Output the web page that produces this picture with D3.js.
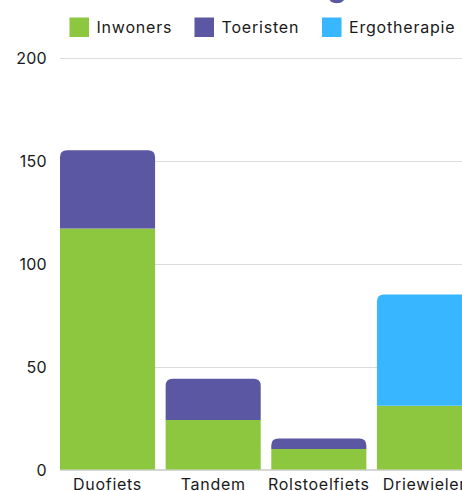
<!DOCTYPE html>
<html>
<head>
<meta charset="utf-8">
<script src="https://cdn.jsdelivr.net/npm/d3@7"></script>
<style>
  body { margin: 0; background: #fff; overflow: hidden; }
  svg { display: block; font-family: Inter, "Open Sans", sans-serif; }
</style>
</head>
<body>
<div id="chart"></div>
<script>
const categories = ["Duofiets", "Tandem", "Rolstoelfiets", "Driewieler"];
const seriesNames = ["Inwoners", "Toeristen", "Ergotherapie"];
const inwoners = [117, 24, 10, 31];
const toeristen = [38, 20, 5, 0];
const ergotherapie = [0, 0, 0, 54];
const yTicks = [0, 50, 100, 150, 200];

const COLORS = {"Inwoners": "#8dc63f", "Toeristen": "#5b57a3", "Ergotherapie": "#38b6ff"};

const WIDTH = 462, HEIGHT = 491;

const SVG = d3.select("#chart")
    .append("svg")
        .attr("width", WIDTH)
        .attr("height", HEIGHT);

// table for the stack layout
let rows = categories.map((c, i) => ({
    cat: c,
    Inwoners: inwoners[i],
    Toeristen: toeristen[i],
    Ergotherapie: ergotherapie[i]
}));

const x = d3.scaleBand()
    .domain(categories)
    .range([60, 472])
    .paddingInner(0.1)
    .paddingOuter(0);

const y = d3.scaleLinear()
    .domain([0, 200])
    .range([469.5, 57.5]);

// title cut off at the top, only a descender shows
SVG.append("text")
    .attr("x", 337)
    .attr("y", -3)
    .attr("text-anchor", "middle")
    .style("font-size", "30px")
    .style("font-weight", "700")
    .style("fill", "#5b57a3")
    .text("g");

// gridlines + y labels
SVG.append("g")
    .selectAll("line")
    .data(yTicks.filter(t => t > 0))
    .enter()
    .append("line")
        .attr("x1", 60)
        .attr("x2", WIDTH)
        .attr("y1", d => Math.round(y(d)) + 0.5)
        .attr("y2", d => Math.round(y(d)) + 0.5)
        .style("stroke", "#dcdcdc")
        .style("stroke-width", 1);

SVG.append("line")
    .attr("x1", 60)
    .attr("x2", WIDTH)
    .attr("y1", y(0) + 0.5)
    .attr("y2", y(0) + 0.5)
    .style("stroke", "#c8c8c8")
    .style("stroke-width", 1.5);

SVG.append("g")
    .selectAll("text")
    .data(yTicks)
    .enter()
    .append("text")
        .attr("x", 47)
        .attr("y", d => y(d) + 6)
        .attr("text-anchor", "end")
        .style("font-size", "16px")
        .style("letter-spacing", "0.3px")
        .style("fill", "#1a1a1a")
        .text(d => d);

// stacked bars
const stack = d3.stack().keys(seriesNames)(rows);

// top non-empty segment for each category gets the rounded corners
let topKey = rows.map(r => {
    let k = null;
    seriesNames.forEach(s => { if (r[s] > 0) k = s; });
    return k;
});

function barPath(x0, w, yTop, yBot, r) {
    if (r <= 0) return `M${x0},${yBot}V${yTop}H${x0 + w}V${yBot}Z`;
    return `M${x0},${yBot}V${yTop + r}Q${x0},${yTop} ${x0 + r},${yTop}` +
           `H${x0 + w - r}Q${x0 + w},${yTop} ${x0 + w},${yTop + r}V${yBot}Z`;
}

stack.forEach(layer => {
    SVG.append("g")
        .selectAll("path")
        .data(layer)
        .enter()
        .filter(d => d[1] - d[0] > 0)
        .append("path")
            .attr("d", d => {
                let idx = categories.indexOf(d.data.cat);
                let r = topKey[idx] === layer.key ? 7 : 0;
                return barPath(x(d.data.cat), x.bandwidth(), y(d[1]), y(d[0]), r);
            })
            .style("fill", COLORS[layer.key]);
});

// x labels
SVG.append("g")
    .selectAll("text")
    .data(categories)
    .enter()
    .append("text")
        .attr("x", d => x(d) + x.bandwidth() / 2)
        .attr("y", 490)
        .attr("text-anchor", "middle")
        .style("font-size", "16px")
        .style("letter-spacing", "0.7px")
        .style("fill", "#1a1a1a")
        .text(d => d);

// legend
const legendX = [69.5, 194.5, 322];
let legend = SVG.append("g")
    .selectAll("g")
    .data(seriesNames)
    .enter()
    .append("g")
        .attr("transform", (d, i) => `translate(${legendX[i]},17.5)`);

legend.append("rect")
    .attr("width", 19.5)
    .attr("height", 19.5)
    .style("fill", d => COLORS[d]);

legend.append("text")
    .attr("x", 27)
    .attr("y", 15.5)
    .style("font-size", "16px")
    .style("letter-spacing", "0.8px")
    .style("fill", "#1a1a1a")
    .text(d => d);
</script>
</body>
</html>
